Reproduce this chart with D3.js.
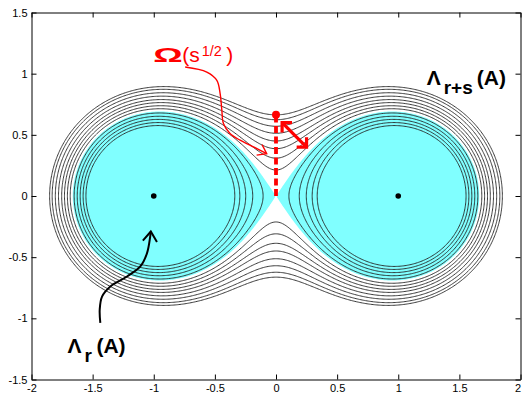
<!DOCTYPE html>
<html>
<head>
<meta charset="utf-8">
<script src="https://cdn.jsdelivr.net/npm/d3@7"></script>
<style>
  html, body { margin: 0; padding: 0; background: #fff; }
  svg { display: block; }
  text { font-family: "Liberation Sans", Arial, Helvetica, sans-serif; }
</style>
</head>
<body>
<div id="chart"></div>
<script>
// 2x2 non-normal matrix, pseudospectra are level sets of sigma_min(zI - A)
const matrixA = [[-1, 1], [0, 1]];
const eigenvalues = [-1, 1];
// epsilon levels of the black curves
const levels = [0.515, 0.537, 0.56, 0.583, 0.607, 0.638, 0.66, 0.683, 0.705, 0.73, 0.755, 0.78, 0.80];
// shaded level r (both components touch at the saddle)
const rLevel = 0.618;
const xTicks = [-2, -1.5, -1, -0.5, 0, 0.5, 1, 1.5, 2];
const yTicks = [-1.5, -1, -0.5, 0, 0.5, 1, 1.5];

// annotations, in data units
const omegaSegment = [[0, 0], [0, 0.665]];
const doubleArrow = [[0.05, 0.6], [0.25, 0.4]];
const omegaPointer = [[-0.743, 1.054], [-0.566, 1.013], [-0.484, 0.945], [-0.457, 0.837], [-0.443, 0.701],
  [-0.43, 0.592], [-0.376, 0.511], [-0.294, 0.456], [-0.185, 0.402], [-0.076, 0.346]];
const lambdaPointer = [[-1.437, -1.037], [-1.442, -0.929], [-1.423, -0.822], [-1.355, -0.739], [-1.219, -0.658],
  [-1.11, -0.576], [-1.055, -0.467], [-1.029, -0.332], [-1.024, -0.29]];
const omegaLabelAt = [-1.004, 1.092];
const lambdaRSAt = [1.233, 0.905];
const lambdaRAt = [-1.706, -1.28];

let w = 522, h = 394;
let svg = d3.select('#chart').append('svg').attr('width', w).attr('height', h);

let x = d3.scaleLinear().domain([-2, 2]).range([31.5, 520.5]);
let y = d3.scaleLinear().domain([-1.5, 1.5]).range([379.5, 12.5]);

// smallest singular value of zI - A (A upper triangular)
function sigmaMin(re, im) {
    let pr = re - matrixA[0][0], sr = re - matrixA[1][1];
    let p2 = pr * pr + im * im, s2 = sr * sr + im * im, q2 = matrixA[0][1] * matrixA[0][1];
    let T = p2 + s2 + q2, D = Math.sqrt(p2 * s2);
    return Math.sqrt(Math.max(0, (T - Math.sqrt(Math.max(0, T * T - 4 * D * D))) / 2));
}

// sample grid at cell centres, grid coord g -> x0 + g*step
let step = 0.01;
let nx = Math.round(4 / step), ny = Math.round(3 / step);
let values = new Float64Array(nx * ny);
for (let j = 0; j < ny; j++) {
    for (let i = 0; i < nx; i++) {
        values[j * nx + i] = -sigmaMin(-2 + (i + 0.5) * step, 1.5 - (j + 0.5) * step);
    }
}

let gridPath = d3.geoPath(d3.geoTransform({
    point: function(gx, gy) { this.stream.point(x(-2 + gx * step), y(1.5 - gy * step)); }
}));

let contours = d3.contours().size([nx, ny]);

// shaded region Lambda_r(A)
svg.append('path')
    .datum(contours.contour(values, -rLevel))
    .attr('d', gridPath)
    .attr('fill', '#80ffff')
    .attr('stroke', 'none');

// level curves
svg.append('g').selectAll('path')
    .data(contours.thresholds(levels.map(l => -l))(values))
    .join('path')
    .attr('d', gridPath)
    .attr('fill', 'none')
    .attr('stroke', '#222')
    .attr('stroke-width', 0.9);

// eigenvalues
svg.append('g').selectAll('circle')
    .data(eigenvalues)
    .join('circle')
    .attr('cx', d => x(d)).attr('cy', y(0)).attr('r', 2.8)
    .attr('fill', '#000');

let defs = svg.append('defs');
function openHead(id, color, size, tipX, half, sw) {
    defs.append('marker')
        .attr('id', id)
        .attr('viewBox', `0 0 ${size} ${size}`)
        .attr('markerUnits', 'userSpaceOnUse')
        .attr('markerWidth', size).attr('markerHeight', size)
        .attr('refX', tipX).attr('refY', size / 2)
        .attr('orient', 'auto-start-reverse')
        .append('path')
        .attr('d', `M${tipX - half * 1.4},${size / 2 - half} L${tipX},${size / 2} L${tipX - half * 1.4},${size / 2 + half}`)
        .attr('fill', 'none')
        .attr('stroke', color)
        .attr('stroke-width', sw)
        .attr('stroke-linecap', 'square');
}
openHead('headRed', '#f00', 14, 12, 5.5, 1.4);
openHead('headBlack', '#000', 16, 14, 6.5, 2);
defs.append('marker')
    .attr('id', 'headBig')
    .attr('viewBox', '0 0 18 18')
    .attr('markerUnits', 'userSpaceOnUse')
    .attr('markerWidth', 18).attr('markerHeight', 18)
    .attr('refX', 15).attr('refY', 9)
    .attr('orient', 'auto-start-reverse')
    .append('path')
    .attr('d', 'M8,2 L15,9 L8,16')
    .attr('fill', 'none')
    .attr('stroke', '#f00')
    .attr('stroke-width', 3.2);

let line = d3.line().x(d => x(d[0])).y(d => y(d[1]));
let curve = d3.line().x(d => x(d[0])).y(d => y(d[1])).curve(d3.curveCatmullRom);

// Omega(s^1/2) dashed segment
svg.append('path')
    .datum(omegaSegment)
    .attr('d', line)
    .attr('stroke', '#f00')
    .attr('stroke-width', 3.8)
    .attr('stroke-dasharray', '7,3.5')
    .attr('fill', 'none');
svg.append('circle')
    .attr('cx', x(omegaSegment[1][0])).attr('cy', y(omegaSegment[1][1])).attr('r', 4)
    .attr('fill', '#f00');

svg.append('path')
    .datum(doubleArrow)
    .attr('d', line)
    .attr('stroke', '#f00')
    .attr('stroke-width', 3.2)
    .attr('fill', 'none')
    .attr('marker-start', 'url(#headBig)')
    .attr('marker-end', 'url(#headBig)');

svg.append('path')
    .datum(omegaPointer)
    .attr('d', curve)
    .attr('stroke', '#f00')
    .attr('stroke-width', 1.4)
    .attr('fill', 'none')
    .attr('marker-end', 'url(#headRed)');

svg.append('path')
    .datum(lambdaPointer)
    .attr('d', curve)
    .attr('stroke', '#000')
    .attr('stroke-width', 2)
    .attr('fill', 'none')
    .attr('marker-end', 'url(#headBlack)');

// labels
let ox = x(omegaLabelAt[0]), oy = y(omegaLabelAt[1]);
svg.append('text')
    .attr('transform', `translate(${ox},${oy}) scale(1.75,1)`)
    .attr('fill', '#f00')
    .attr('font-size', 21).attr('font-weight', 'bold')
    .text('Ω');
let om = svg.append('text').attr('fill', '#f00').attr('font-size', 21);
om.append('tspan').attr('x', ox + 29).attr('y', oy).text('(s');
om.append('tspan').attr('x', ox + 48.5).attr('y', oy - 6).attr('font-size', 14.5).text('1/2');
om.append('tspan').attr('x', ox + 73).attr('y', oy).text(')');

function lambdaLabel(at, sub, subW) {
    let lx = x(at[0]), ly = y(at[1]);
    let t = svg.append('text').attr('fill', '#000').attr('font-weight', 'bold').attr('font-size', 21);
    t.append('tspan').attr('x', lx).attr('y', ly).text('Λ');
    t.append('tspan').attr('x', lx + 17).attr('y', ly + 9).attr('font-size', 19).text(sub);
    t.append('tspan').attr('x', lx + 19 + subW).attr('y', ly).text('(A)');
}
lambdaLabel(lambdaRSAt, 'r+s', 31);
lambdaLabel(lambdaRAt, 'r', 10);

// axes, ticks pointing inward
let fmt = d => String(d);
let axisStyle = g => {
    g.selectAll('text').attr('font-size', 11).attr('fill', '#000')
        .style('font-family', '"Liberation Sans", Arial, sans-serif');
    g.selectAll('line, path').attr('stroke', '#000');
};
svg.append('g').attr('transform', `translate(0,${y(-1.5)})`)
    .call(d3.axisBottom(x).tickValues(xTicks).tickFormat(fmt).tickSizeInner(-5).tickSizeOuter(0).tickPadding(5))
    .call(axisStyle)
    .call(g => g.selectAll('.tick text').filter(d => d === 2).attr('dx', -3));
svg.append('g').attr('transform', `translate(0,${y(1.5)})`)
    .call(d3.axisTop(x).tickValues(xTicks).tickFormat('').tickSizeInner(-5).tickSizeOuter(0))
    .call(axisStyle);
svg.append('g').attr('transform', `translate(${x(-2)},0)`)
    .call(d3.axisLeft(y).tickValues(yTicks).tickFormat(fmt).tickSizeInner(-5).tickSizeOuter(0).tickPadding(4))
    .call(axisStyle);
svg.append('g').attr('transform', `translate(${x(2)},0)`)
    .call(d3.axisRight(y).tickValues(yTicks).tickFormat('').tickSizeInner(-5).tickSizeOuter(0))
    .call(axisStyle);
</script>
</body>
</html>
